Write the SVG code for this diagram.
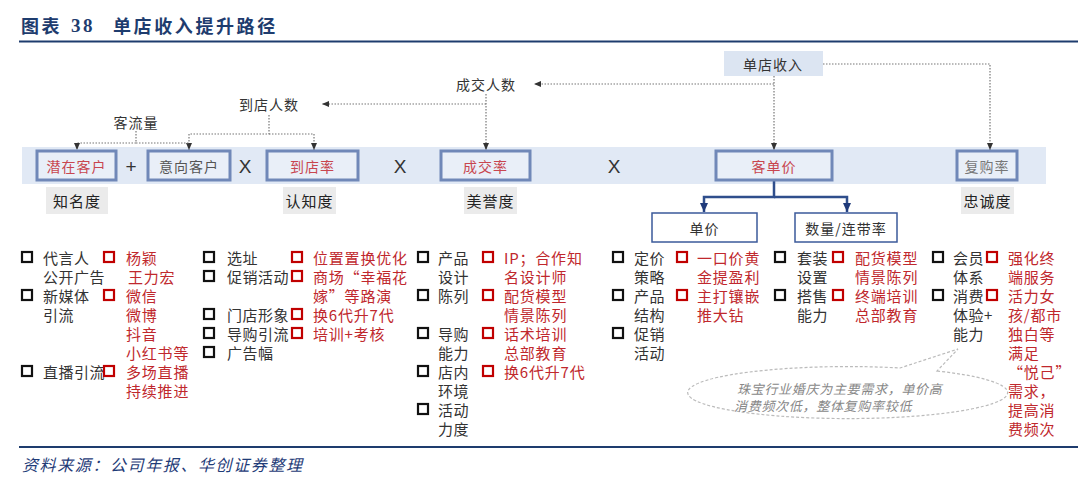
<svg xmlns="http://www.w3.org/2000/svg" width="1080" height="485" viewBox="0 0 1080 485">
<defs>
<style>
text{font-family:"Noto Sans CJK SC","Noto Sans",sans-serif;dominant-baseline:central}
.title{font-size:18px;font-weight:700;fill:#1E3C6E;letter-spacing:2.6px}
.band{fill:#E1E9F5}
.box{fill:#E9EFF8;stroke:#7088B8;stroke-width:3}
.bt{font-size:14px;text-anchor:middle;letter-spacing:1px}
.red{fill:#C8464F}
.gry{fill:#555}
.lab{fill:#EBEBEB}
.lt{font-size:15px;fill:#222;text-anchor:middle;letter-spacing:1px}
.top{fill:#DCE5F2}
.ct{font-size:14px;fill:#333;text-anchor:middle;letter-spacing:1px}
.wbox{fill:#fff;stroke:#3B5A9A;stroke-width:1.5}
.op{font-family:"Liberation Sans",Arial,sans-serif;font-size:19px;fill:#333;text-anchor:middle}
.dot{fill:none;stroke:#777;stroke-width:1.2;stroke-dasharray:1.5 1.5}
.sol{fill:none;stroke:#2F4E8C;stroke-width:2.5}
.li{font-size:15px;fill:#333;letter-spacing:0.5px}
.lr{font-size:15px;fill:#C0282D;letter-spacing:0.8px}
.sqb{fill:none;stroke:#111;stroke-width:2.2}
.sqr{fill:none;stroke:#C00000;stroke-width:2.2}
.call{fill:none;stroke:#BBBBBB;stroke-width:1.2;stroke-dasharray:3 2}
.ctx{font-size:13px;fill:#888;font-style:italic;letter-spacing:0.7px}
.src{font-size:16px;fill:#1F3C78;font-style:italic;letter-spacing:1.6px}
</style>
<marker id="ad" markerWidth="7" markerHeight="6" refX="7" refY="3" orient="auto" markerUnits="userSpaceOnUse"><path d="M0,0 L7,3 L0,6 z" fill="#333"/></marker>
<marker id="as" markerWidth="9" markerHeight="8" refX="9" refY="4" orient="auto" markerUnits="userSpaceOnUse"><path d="M0,0 L9,4 L0,8 z" fill="#1F3A7A"/></marker>
</defs>

<g id="title">
<text class="title" y="25"><tspan x="21">图表</tspan><tspan x="71" font-family="Liberation Serif,serif" font-size="19px">38</tspan><tspan x="113">单店收入提升路径</tspan></text>
<line x1="19" y1="41.5" x2="1078" y2="41.5" stroke="#1E3C6E" stroke-width="2"/>
</g>

<rect class="band" x="22" y="147" width="1024" height="37"/>

<g id="connectors">
<path class="dot" d="M774,76 V150" marker-end="url(#ad)"/>
<path class="dot" d="M774,84 H534" marker-end="url(#ad)"/>
<path class="dot" d="M823,64 H990 V150" marker-end="url(#ad)"/>
<path class="dot" d="M486,94 V150" marker-end="url(#ad)"/>
<path class="dot" d="M486,104 H322" marker-end="url(#ad)"/>
<path class="dot" d="M269,115 V134 H189"/>
<path class="dot" d="M269,134 H314 V150" marker-end="url(#ad)"/>
<path class="dot" d="M189,134 V150" marker-end="url(#ad)"/>
<path class="dot" d="M136,131 V143 H77 V150" marker-end="url(#ad)"/>
<path class="dot" d="M136,143 H189"/>
<path class="sol" d="M774,180 V197 H704 V212" marker-end="url(#as)"/>
<path class="sol" d="M774,197 H847 V212" marker-end="url(#as)"/>
</g>

<g id="n-top"><rect class="top" x="724" y="51" width="99" height="25"/><text class="ct" x="773" y="63.5">单店收入</text></g>
<g id="l-kll"><text class="ct" x="136" y="122">客流量</text></g>
<g id="l-ddrs"><text class="ct" x="269" y="104">到店人数</text></g>
<g id="l-cjrs"><text class="ct" x="486" y="84">成交人数</text></g>

<g id="n-qzkh"><rect class="box" x="37" y="151" width="79" height="29"/><text class="bt red" x="76.5" y="165.5">潜在客户</text></g>
<text class="op" x="131" y="166" font-size="24">+</text>
<g id="n-yxkh"><rect class="box" x="148" y="151" width="82" height="29"/><text class="bt gry" x="189" y="165.5">意向客户</text></g>
<text class="op" x="245" y="166">X</text>
<g id="n-ddl"><rect class="box" x="267" y="151" width="91" height="29"/><text class="bt red" x="312.5" y="165.5">到店率</text></g>
<text class="op" x="400" y="166">X</text>
<g id="n-cjl"><rect class="box" x="441" y="151" width="89" height="29"/><text class="bt red" x="485.5" y="165.5">成交率</text></g>
<text class="op" x="614" y="166">X</text>
<g id="n-kdj"><rect class="box" x="716" y="151" width="116" height="29"/><text class="bt red" x="774" y="165.5">客单价</text></g>
<g id="n-fgl"><rect class="box" x="957" y="151" width="60" height="29"/><text class="bt" fill="#777" x="987" y="165.5">复购率</text></g>

<g id="l-zmd"><rect class="lab" x="46" y="187" width="62" height="27"/><text class="lt" x="77" y="200.5">知名度</text></g>
<g id="l-rzd"><rect class="lab" x="283" y="187" width="53" height="27"/><text class="lt" x="309.5" y="200.5">认知度</text></g>
<g id="l-myd"><rect class="lab" x="464" y="187" width="53" height="27"/><text class="lt" x="490.5" y="200.5">美誉度</text></g>
<g id="l-zcd"><rect class="lab" x="961" y="187" width="53" height="27"/><text class="lt" x="987.5" y="200.5">忠诚度</text></g>

<g id="n-dj"><rect class="wbox" x="652" y="213" width="105" height="29"/><text class="ct" x="704.5" y="227.5">单价</text></g>
<g id="n-sl"><rect class="wbox" x="795" y="213" width="102" height="29"/><text class="ct" x="846" y="227.5">数量/连带率</text></g>

<g id="list1">
<rect class="sqb" x="22" y="252" width="10" height="10"/><rect class="sqb" x="22" y="290" width="10" height="10"/><rect class="sqb" x="22" y="366" width="10" height="10"/>
<text class="li" x="43" y="257">代言人</text><text class="li" x="43" y="276">公开广告</text><text class="li" x="43" y="295">新媒体</text><text class="li" x="43" y="314">引流</text><text class="li" x="43" y="371">直播引流</text>
<rect class="sqr" x="104" y="252" width="10" height="10"/><rect class="sqr" x="104" y="290" width="10" height="10"/><rect class="sqr" x="104" y="366" width="10" height="10"/>
<text class="lr" x="126" y="257">杨颖</text><text class="lr" x="128" y="276">王力宏</text><text class="lr" x="126" y="295">微信</text><text class="lr" x="126" y="314">微博</text><text class="lr" x="126" y="333">抖音</text><text class="lr" x="126" y="352">小红书等</text><text class="lr" x="126" y="371">多场直播</text><text class="lr" x="126" y="390">持续推进</text>
</g>

<g id="list2">
<rect class="sqb" x="204" y="252" width="10" height="10"/><rect class="sqb" x="204" y="271" width="10" height="10"/><rect class="sqb" x="204" y="309" width="10" height="10"/><rect class="sqb" x="204" y="328" width="10" height="10"/><rect class="sqb" x="204" y="347" width="10" height="10"/>
<text class="li" x="227" y="257">选址</text><text class="li" x="227" y="276">促销活动</text><text class="li" x="227" y="314">门店形象</text><text class="li" x="227" y="333">导购引流</text><text class="li" x="227" y="352">广告幅</text>
<rect class="sqr" x="292" y="252" width="10" height="10"/><rect class="sqr" x="292" y="271" width="10" height="10"/><rect class="sqr" x="292" y="309" width="10" height="10"/><rect class="sqr" x="292" y="328" width="10" height="10"/>
<text class="lr" x="313" y="257">位置置换优化</text><text class="lr" x="313" y="276">商场“幸福花</text><text class="lr" x="313" y="295">嫁”等路演</text><text class="lr" x="313" y="314">换6代升7代</text><text class="lr" x="313" y="333">培训+考核</text>
</g>

<g id="list3">
<rect class="sqb" x="418" y="252" width="10" height="10"/><rect class="sqb" x="418" y="290" width="10" height="10"/><rect class="sqb" x="418" y="328" width="10" height="10"/><rect class="sqb" x="418" y="366" width="10" height="10"/><rect class="sqb" x="418" y="404" width="10" height="10"/>
<text class="li" x="438" y="257">产品</text><text class="li" x="438" y="276">设计</text><text class="li" x="438" y="295">陈列</text><text class="li" x="438" y="333">导购</text><text class="li" x="438" y="352">能力</text><text class="li" x="438" y="371">店内</text><text class="li" x="438" y="390">环境</text><text class="li" x="438" y="409">活动</text><text class="li" x="438" y="428">力度</text>
<rect class="sqr" x="483" y="252" width="10" height="10"/><rect class="sqr" x="483" y="290" width="10" height="10"/><rect class="sqr" x="483" y="328" width="10" height="10"/><rect class="sqr" x="483" y="366" width="10" height="10"/>
<text class="lr" x="504" y="257">IP；合作知</text><text class="lr" x="504" y="276">名设计师</text><text class="lr" x="504" y="295">配货模型</text><text class="lr" x="504" y="314">情景陈列</text><text class="lr" x="504" y="333">话术培训</text><text class="lr" x="504" y="352">总部教育</text><text class="lr" x="504" y="371">换6代升7代</text>
</g>

<g id="list4">
<rect class="sqb" x="613" y="252" width="10" height="10"/><rect class="sqb" x="613" y="290" width="10" height="10"/><rect class="sqb" x="613" y="328" width="10" height="10"/>
<text class="li" x="634" y="257">定价</text><text class="li" x="634" y="276">策略</text><text class="li" x="634" y="295">产品</text><text class="li" x="634" y="314">结构</text><text class="li" x="634" y="333">促销</text><text class="li" x="634" y="352">活动</text>
<rect class="sqr" x="677" y="252" width="10" height="10"/><rect class="sqr" x="677" y="290" width="10" height="10"/>
<text class="lr" x="697" y="257">一口价黄</text><text class="lr" x="697" y="276">金提盈利</text><text class="lr" x="697" y="295">主打镶嵌</text><text class="lr" x="697" y="314">推大钻</text>
<rect class="sqb" x="775" y="252" width="10" height="10"/><rect class="sqb" x="775" y="290" width="10" height="10"/>
<text class="li" x="797" y="257">套装</text><text class="li" x="797" y="276">设置</text><text class="li" x="797" y="295">搭售</text><text class="li" x="797" y="314">能力</text>
<rect class="sqr" x="833" y="252" width="10" height="10"/><rect class="sqr" x="833" y="290" width="10" height="10"/>
<text class="lr" x="855" y="257">配货模型</text><text class="lr" x="855" y="276">情景陈列</text><text class="lr" x="855" y="295">终端培训</text><text class="lr" x="855" y="314">总部教育</text>
</g>

<g id="list5">
<rect class="sqb" x="933" y="252" width="10" height="10"/><rect class="sqb" x="933" y="290" width="10" height="10"/>
<text class="li" x="953" y="257">会员</text><text class="li" x="953" y="276">体系</text><text class="li" x="953" y="295">消费</text><text class="li" x="953" y="314">体验+</text><text class="li" x="953" y="333">能力</text>
<rect class="sqr" x="987" y="252" width="10" height="10"/><rect class="sqr" x="987" y="290" width="10" height="10"/>
<text class="lr" x="1008" y="257">强化终</text><text class="lr" x="1008" y="276">端服务</text><text class="lr" x="1008" y="295">活力女</text><text class="lr" x="1008" y="314">孩/都市</text><text class="lr" x="1008" y="333">独白等</text><text class="lr" x="1008" y="352">满足</text><text class="lr" x="1008" y="371">“悦己”</text><text class="lr" x="1008" y="390">需求，</text><text class="lr" x="1008" y="409">提高消</text><text class="lr" x="1008" y="428">费频次</text>
</g>

<g id="callout">
<path class="call" d="M937,371 A160 26 0 1 1 900,368 L958,349 Z"/>
<text class="ctx" x="737" y="388">珠宝行业婚庆为主要需求，单价高</text>
<text class="ctx" x="734" y="405">消费频次低，整体复购率较低</text>
</g>

<g id="footer">
<line x1="19" y1="447" x2="1078" y2="447" stroke="#1E3C6E" stroke-width="2"/>
<text class="src" x="22" y="464">资料来源：公司年报、华创证券整理</text>
</g>
</svg>
